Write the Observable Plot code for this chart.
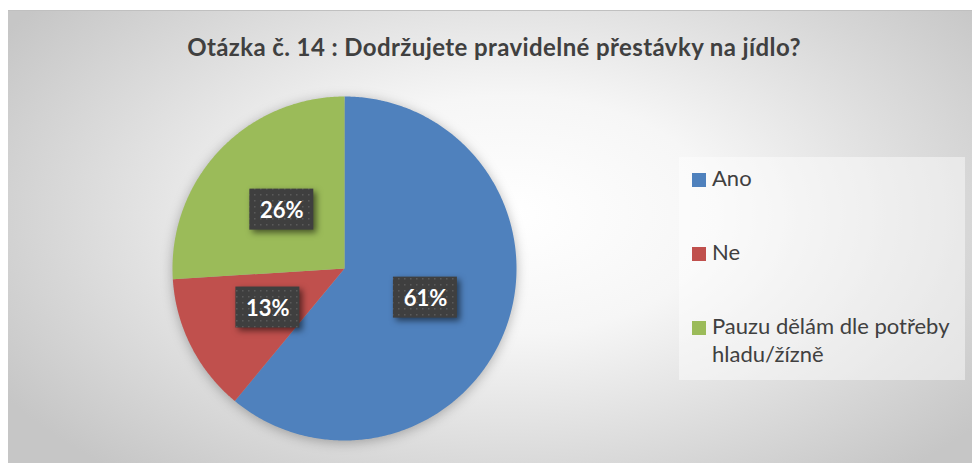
<!DOCTYPE html>
<html><head><meta charset="utf-8">
<script src="https://cdn.jsdelivr.net/npm/d3@7"></script>
<script src="https://cdn.jsdelivr.net/npm/@observablehq/plot@0.6"></script>
<style>
body{margin:0;background:#fff;}
#wrap{position:relative;width:972px;height:463px;overflow:hidden;font-family:Lato,"Open Sans",sans-serif;}
#bg{position:absolute;left:8px;top:10px;width:964px;height:453px;
 background:radial-gradient(ellipse 62% 75% at 52% 45%, #ffffff 0%, #f6f6f6 35%, #dcdcdc 70%, #c6c6c6 100%);
 border-top:1px solid #c0c0c0;}
#title{position:absolute;left:12px;width:964px;top:35px;line-height:24px;text-align:center;font-weight:bold;font-size:24px;letter-spacing:0.4px;color:#404040;white-space:nowrap;}
#legend{position:absolute;left:679px;top:157px;width:286px;height:223px;background:rgba(255,255,255,0.45);}
.li{position:absolute;left:13px;font-size:22px;color:#404040;line-height:28px;}
.sw{position:absolute;left:0;width:14px;height:14px;}
.li span.t{position:absolute;left:20px;white-space:nowrap;}
#plot{position:absolute;left:0;top:0;}
</style></head>
<body>
<div id="wrap"><div id="bg"></div><div id="title"></div><div id="legend"></div><div id="plot"></div></div>
<script>
const title = "Otázka č. 14 : Dodržujete pravidelné přestávky na jídlo?";
const categories = ["Ano", "Ne", "Pauzu dělám dle potřeby hladu/žízně"];
const legendLines = [["Ano"], ["Ne"], ["Pauzu dělám dle potřeby", "hladu/žízně"]];
const values = [61, 13, 26];
const colors = ["#4F81BD", "#C0504D", "#9BBB59"];

document.getElementById("title").textContent = title;

const arcs = d3.pie().sort(null).value(d => d)(values);
const pts = [];
arcs.forEach((a, i) => {
  pts.push({cat: categories[i], x: 0, y: 0});
  const n = Math.max(2, Math.ceil((a.endAngle - a.startAngle) / 0.01));
  for (let k = 0; k <= n; k++) {
    const t = a.startAngle + (a.endAngle - a.startAngle) * k / n;
    pts.push({cat: categories[i], x: Math.sin(t), y: Math.cos(t)});
  }
});
const R = 172; // px per unit
const bw = 64 / R, bh = 41 / R;
const labels = arcs.map((a, i) => {
  const m = (a.startAngle + a.endAngle) / 2;
  return {cat: categories[i], text: values[i] + "%", x: 0.5 * Math.sin(m), y: 0.5 * Math.cos(m)};
});

const chart = Plot.plot({
  width: 972, height: 463,
  style: {background: "transparent", overflow: "visible"},
  x: {domain: [-1, 1], range: [344 - R, 344 + R], axis: null},
  y: {domain: [-1, 1], range: [268 + R, 268 - R], axis: null},
  color: {domain: categories, range: colors},
  marks: [
    Plot.line(pts, {x: "x", y: "y", z: "cat", fill: "cat", stroke: "none", curve: "linear"}),
    Plot.rect(labels, {x1: d => d.x - bw/2, x2: d => d.x + bw/2, y1: d => d.y - bh/2, y2: d => d.y + bh/2, fill: "url(#dots)"}),
    Plot.text(labels, {x: "x", y: "y", text: "text", fill: "white", fontWeight: "bold", fontSize: 22, fontFamily: "Lato, 'Open Sans', sans-serif", dy: 1})
  ]
});
document.getElementById("plot").appendChild(chart);
const svg = d3.select(chart);
const defs = svg.insert("defs", ":first-child");
const pat = defs.append("pattern").attr("id", "dots").attr("patternUnits", "userSpaceOnUse").attr("width", 6).attr("height", 6);
pat.append("rect").attr("width", 6).attr("height", 6).attr("fill", "#3f3f3f");
pat.append("rect").attr("x", 2).attr("y", 2).attr("width", 1.5).attr("height", 1.5).attr("fill", "#5a5a5a");
svg.selectAll("g[aria-label=line]").style("filter", "drop-shadow(0px 2px 6px rgba(0,0,0,0.28))");
svg.selectAll("g[aria-label=rect]").style("filter", "drop-shadow(3px 3px 3px rgba(0,0,0,0.55))");

const lg = document.getElementById("legend");
const tops = [16, 90, 164];
legendLines.forEach((lines, i) => {
  const li = document.createElement("div");
  li.className = "li";
  li.style.top = tops[i] + "px";
  const sw = document.createElement("div");
  sw.className = "sw"; sw.style.background = colors[i]; sw.style.top = "0px";
  li.appendChild(sw);
  lines.forEach((s, j) => {
    const t = document.createElement("span");
    t.className = "t"; t.textContent = s; t.style.top = (-9.5 + j * 28) + "px";
    li.appendChild(t);
  });
  lg.appendChild(li);
});
</script>
</body></html>
